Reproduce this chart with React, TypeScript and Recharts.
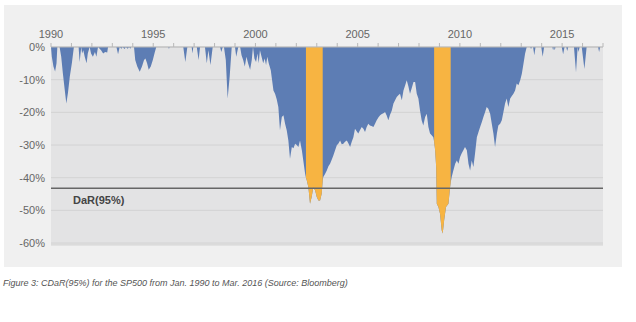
import { AreaChart, Area, XAxis, YAxis, CartesianGrid, ReferenceLine } from "recharts"

// decimal year of each reading
const dates = [
  // 1990
  1990.0, 1990.04, 1990.12, 1990.2, 1990.27, 1990.31, 1990.42, 1990.5, 1990.58, 1990.67, 1990.75, 1990.83, 1990.92, 1991.02, 1991.12,
  // 1991-1992
  1991.35, 1991.4, 1991.48, 1991.52, 1991.58, 1991.65, 1991.74, 1991.8, 1991.89, 1991.96, 1992.05, 1992.15, 1992.22, 1992.3, 1992.45, 1992.55, 1992.65, 1992.75, 1992.79,
  // 1993
  1993.2, 1993.28, 1993.36, 1993.45, 1993.5, 1993.6, 1993.66, 1993.75, 1993.82, 1993.88, 1993.92,
  // 1994
  1994.06, 1994.12, 1994.22, 1994.34, 1994.45, 1994.55, 1994.62, 1994.7, 1994.78, 1994.88, 1994.98, 1995.08, 1995.15,
  // 1995-1997
  1995.74, 1995.77, 1995.8, 1996.47, 1996.57, 1996.67, 1996.88, 1996.92, 1996.96, 1997.13, 1997.22, 1997.29, 1997.53, 1997.62, 1997.7, 1997.8, 1997.91,
  // 1998
  1998.27, 1998.33, 1998.4, 1998.46, 1998.55, 1998.64, 1998.74, 1998.84, 1999.0, 1999.06, 1999.16,
  // 1999-2000
  1999.25, 1999.32, 1999.4, 1999.48, 1999.56, 1999.64, 1999.74, 1999.82, 1999.88, 1999.95, 2000.03, 2000.1, 2000.16, 2000.22, 2000.3, 2000.38, 2000.45, 2000.52, 2000.58, 2000.65,
  // 2000-2002
  2000.75, 2000.88, 2000.96, 2001.04, 2001.12, 2001.2, 2001.29, 2001.37, 2001.45, 2001.53, 2001.61, 2001.69, 2001.78, 2001.86, 2001.94, 2002.02, 2002.1, 2002.18, 2002.27, 2002.34, 2002.43,
  // 2002-2003 crash
  2002.47, 2002.51, 2002.59, 2002.67, 2002.75, 2002.83, 2002.92, 2003.0, 2003.08, 2003.16, 2003.24, 2003.29,
  // 2003-2004
  2003.32, 2003.41, 2003.49, 2003.57, 2003.65, 2003.73, 2003.81, 2003.9, 2003.98, 2004.06, 2004.14, 2004.22, 2004.3, 2004.38, 2004.47, 2004.55, 2004.63,
  // 2004-2006
  2004.71, 2004.79, 2004.87, 2004.95, 2005.03, 2005.11, 2005.2, 2005.28, 2005.36, 2005.44, 2005.52, 2005.6, 2005.68, 2005.77, 2005.85, 2005.93, 2006.02,
  // 2006-2007
  2006.1, 2006.18, 2006.26, 2006.34, 2006.42, 2006.5, 2006.58, 2006.67, 2006.75, 2006.83, 2006.91, 2006.99, 2007.07, 2007.16, 2007.24, 2007.32, 2007.4,
  // 2007-2008
  2007.48, 2007.56, 2007.65, 2007.73, 2007.81, 2007.89, 2007.97, 2008.05, 2008.13, 2008.21, 2008.3, 2008.38, 2008.46, 2008.54, 2008.62, 2008.7,
  // 2008-2009 crash
  2008.74, 2008.79, 2008.84, 2008.87, 2008.95, 2009.03, 2009.11, 2009.16, 2009.23, 2009.32, 2009.44, 2009.52, 2009.55,
  // 2009-2010
  2009.6, 2009.68, 2009.77, 2009.85, 2009.93, 2010.01, 2010.09, 2010.17, 2010.25, 2010.34, 2010.42, 2010.5, 2010.58, 2010.66, 2010.74, 2010.83, 2010.91, 2010.99,
  // 2011-2012
  2011.07, 2011.15, 2011.23, 2011.31, 2011.39, 2011.48, 2011.56, 2011.64, 2011.72, 2011.81, 2011.88, 2011.97, 2012.05, 2012.13, 2012.21, 2012.29, 2012.37, 2012.46,
  // 2012-2013
  2012.54, 2012.62, 2012.7, 2012.78, 2012.86, 2012.95, 2013.03, 2013.11, 2013.19, 2013.27,
  // 2013-2016
  2013.44, 2013.48, 2013.52, 2013.58, 2013.64, 2013.7, 2013.98, 2014.05, 2014.12, 2014.52, 2014.56, 2014.6, 2014.64, 2014.68, 2014.98, 2015.05, 2015.12, 2015.2, 2015.25, 2015.3, 2015.58, 2015.68, 2015.76, 2015.8, 2015.86, 2015.96, 2016.09, 2016.2, 2016.76, 2016.81, 2016.86,
]

// drawdown in %, same order as dates
const cdar = [
  0, -3, -6, -7.5, -5, 0, 0, -3, -8, -13, -17.3, -14, -9, -5, 0,
  0, -4.6, 0, -2, -1, -3, -5, -2, 0, -2, -3, -1.5, -3, 0, -1, -2, -1.5, -1.7, 0,
  0, -2.2, 0, -0.5, 0, -0.6, 0, -0.5, 0, -0.5, 0,
  0, -4, -6, -7.6, -6, -4, -3.5, -5, -7, -6, -4, -1.5, 0,
  0, -0.6, 0, 0, -4.6, 0, 0, -2, 0, 0, -4, 0, 0, -5, -1, -5.5, 0,
  0, -1.5, 0, 0, -4, -15.8, -9, 0, 0, -3, 0,
  0, -2.5, -4, -6, -3, -5, -7, -4, 0, -3.5, -4.6, -2, -5, -1, -3, -5, -3.5, -5.5, -3, -5,
  -7.1, -13.3, -14.3, -16, -18.4, -25.5, -21.4, -20.9, -23.5, -25.5, -28.6, -34.2, -30.6, -31, -29.6, -30, -30.6, -28.6, -31.6, -34.7, -38.8,
  -40, -40.8, -42.9, -48, -45.9, -42.9, -43.9, -45.9, -47, -47, -44.9, -40.8,
  -39.8, -38.8, -37.8, -36.5, -35.7, -34.5, -33.2, -31.5, -30.1, -29.5, -28.6, -29.8, -29.6, -29, -28.6, -29.5, -30.6,
  -29, -27.6, -25, -25.8, -26.5, -25.5, -24.5, -25, -26, -24.5, -23.5, -24, -24.2, -24.5, -23.5, -22.4, -21.5,
  -20.9, -20.5, -20.3, -19.9, -21, -22.4, -20.8, -19.4, -17.3, -16.3, -15.3, -14.8, -14.3, -16.3, -13.3, -11.8, -10.2,
  -12, -14.3, -12.5, -10.7, -10.7, -14.3, -15.8, -19.4, -22.4, -24, -21.4, -20.4, -24.5, -26.5, -27, -27.6,
  -29, -31.6, -36.7, -48, -49, -51, -56.1, -57.1, -53, -49, -48, -42.9, -41.5,
  -39.8, -37.8, -35.7, -34.7, -35.7, -33.7, -32.5, -31.6, -30.6, -31.6, -35.7, -37.8, -34.7, -36.7, -32.7, -27.6, -26, -24.5,
  -23, -21.4, -20, -18.4, -18.9, -20.4, -23.5, -26.5, -30.6, -26.5, -24, -23.5, -22.4, -19.9, -17.3, -15.8, -18.4, -15.8,
  -15, -14.3, -13.3, -11.2, -11.7, -10.2, -8.2, -5.1, -2, 0,
  0, -0.6, 0, 0, -2.5, 0, 0, -3, 0, 0, -1, 0, -1, 0, 0, -2.2, 0, 0, -1.2, 0, 0, -7.7, 0, -1.5, 0, 0, -6.7, 0, 0, -1.5, 0,
]

// periods shaded orange
const crashes = [
  [2002.47, 2003.29],
  [2008.74, 2009.55],
]

const yearTicks = [1990, 1991, 1992, 1993, 1994, 1995, 1996, 1997, 1998, 1999, 2000, 2001, 2002, 2003, 2004, 2005, 2006, 2007, 2008, 2009, 2010, 2011, 2012, 2013, 2014, 2015, 2016, 2017]
const yearLabels = [1990, 1995, 2000, 2005, 2010, 2015]
const pctTicks = [0, -10, -20, -30, -40, -50, -60]
const darLevel = -43.2

const data = dates.map((t, i) => ({
  t,
  dd: cdar[i],
  hi: crashes.some(([a, b]) => t >= a && t <= b) ? cdar[i] : null,
}))

const font = "'Liberation Sans', Arial, sans-serif"

export default function App() {
  return (
    <div style={{ position: "absolute", left: 0, top: 0, width: 636, height: 322, background: "#fff", fontFamily: font }}>
      <div style={{ position: "absolute", left: 4, top: 5, width: 618, height: 262, background: "#f0f0f0" }} />
      <div style={{ position: "absolute", left: 0, top: 0 }}>
        <AreaChart width={636} height={322} data={data} margin={{ top: 17, right: 33, bottom: 77, left: 6 }}>
          <CartesianGrid vertical={false} fill="#e3e3e4" stroke="#d3d3d3" />
          <XAxis
            dataKey="t"
            type="number"
            orientation="top"
            domain={[1990, 2017]}
            ticks={yearTicks}
            interval={0}
            height={30}
            tickSize={4}
            tickMargin={5}
            stroke="#b8b8b8"
            tick={{ fill: "#666", fontSize: 11 }}
            tickFormatter={(v) => (yearLabels.includes(v) ? String(v) : "")}
          />
          <YAxis
            type="number"
            domain={[-60.6, 0]}
            allowDataOverflow
            ticks={pctTicks}
            interval={0}
            width={45}
            axisLine={false}
            tickLine={false}
            tickSize={0}
            tickMargin={6}
            tick={{ fill: "#666", fontSize: 11 }}
            tickFormatter={(v) => `${v}%`}
          />
          <Area type="linear" dataKey="dd" baseValue={0} fill="#5d7db4" fillOpacity={1} stroke="none" isAnimationActive={false} />
          <Area type="linear" dataKey="hi" baseValue={0} fill="#f7b442" fillOpacity={1} stroke="none" isAnimationActive={false} />
          <ReferenceLine
            y={darLevel}
            stroke="#666"
            strokeWidth={1.5}
            label={(props: any) => (
              <text x={props.viewBox.x + 22} y={props.viewBox.y + 16} fill="#444" fontSize={11} fontWeight="bold">
                DaR(95%)
              </text>
            )}
          />
        </AreaChart>
      </div>
      <div style={{ position: "absolute", left: 3, top: 278, fontSize: 9, fontStyle: "italic", color: "#555" }}>
        Figure 3: CDaR(95%) for the SP500 from Jan. 1990 to Mar. 2016 (Source: Bloomberg)
      </div>
    </div>
  )
}
